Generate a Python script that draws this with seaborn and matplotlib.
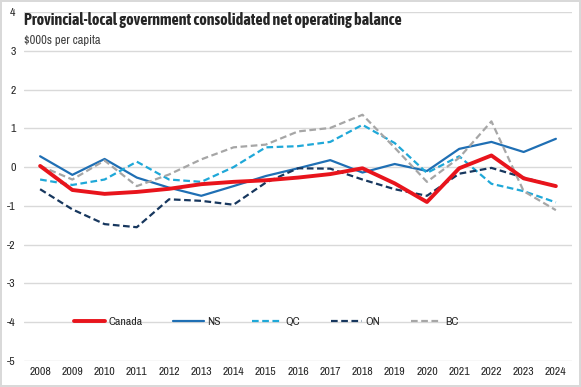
import numpy as np, pandas as pd
import matplotlib
matplotlib.use("Agg")
import matplotlib.pyplot as plt
import seaborn as sns

years = list(range(2008, 2025))
canada = [0.03, -0.59, -0.69, -0.64, -0.56, -0.44, -0.38, -0.34, -0.27, -0.18, -0.03, -0.42, -0.90, -0.03, 0.30, -0.29, -0.49]
ns     = [0.28, -0.20, 0.21, -0.27, -0.53, -0.74, -0.49, -0.23, -0.03, 0.18, -0.14, 0.08, -0.10, 0.47, 0.65, 0.39, 0.73]
qc     = [-0.32, -0.46, -0.32, 0.14, -0.32, -0.38, 0.00, 0.51, 0.54, 0.65, 1.09, 0.62, -0.15, 0.28, -0.43, -0.62, -0.91]
on     = [-0.57, -1.09, -1.47, -1.55, -0.83, -0.87, -0.97, -0.40, -0.03, -0.04, -0.32, -0.57, -0.74, -0.17, -0.02, -0.27, -0.49]
bc     = [0.03, -0.32, 0.17, -0.49, -0.19, 0.20, 0.51, 0.58, 0.92, 1.01, 1.35, 0.50, -0.38, 0.24, 1.18, -0.62, -1.11]

series = {"Canada": canada, "NS": ns, "QC": qc, "ON": on, "BC": bc}
colors = {"Canada": "#e8141c", "NS": "#1f6fb4", "QC": "#1fa8d8", "ON": "#17375e", "BC": "#a6a6a6"}
dashes = {"Canada": "", "NS": "", "QC": (3, 1.6), "ON": (3, 1.6), "BC": (3, 1.6)}
widths = {"Canada": 2.8, "NS": 1.6, "QC": 1.6, "ON": 1.6, "BC": 1.6}

df = pd.concat([pd.DataFrame({"year": years, "value": v, "region": k}) for k, v in series.items()])

sns.set_style("white")
plt.rcParams["font.family"] = ["Archivo Narrow", "DejaVu Sans"]
plt.rcParams["font.stretch"] = "condensed"
plt.rcParams["axes.unicode_minus"] = False

fig = plt.figure(figsize=(5.81, 3.87), dpi=100)
fig.patch.set_edgecolor("#d9d9d9")
fig.patch.set_linewidth(1.5)
ax = fig.add_axes([24/581, 1 - 361/387, (572-24)/581, (361-12)/387])

sns.lineplot(data=df, x="year", y="value", hue="region", style="region",
             palette=colors, dashes=dashes, ax=ax, legend=False)
for line, name in zip(ax.get_lines(), series.keys()):
    line.set_linewidth(widths[name])
    line.set_zorder(3 if name == "Canada" else 2)

ax.set_xlim(2007.5, 2024.5)
ax.set_ylim(-5, 4)
ax.set_yticks(range(-5, 5))
ax.set_xticks(years)
ax.set_xticklabels([str(y) for y in years])
ax.grid(axis="y", color="#d9d9d9", linewidth=1)
ax.set_axisbelow(True)
for s in ax.spines.values():
    s.set_visible(False)
ax.tick_params(axis="both", length=0, labelsize=8.5, colors="#262626")
ax.tick_params(axis="y", pad=6)
ax.tick_params(axis="x", pad=4)
ax.set_xlabel("")
ax.set_ylabel("")

handles = [plt.Line2D([], [], color=colors[k], lw=widths[k],
                      linestyle="-" if not dashes[k] else (0, dashes[k])) for k in series]
ax.legend(handles, list(series.keys()), loc="center", bbox_to_anchor=(0.442, (-4 + 5) / 9),
          ncol=5, frameon=False, fontsize=8.5, handlelength=2.6, columnspacing=2.6,
          handletextpad=0.3, labelcolor="#262626")

fig.text(24/581, 1 - 20/387, "Provincial-local government consolidated net operating balance",
         fontsize=11.5, fontweight="bold", family=["Asap Condensed", "DejaVu Sans"],
         color="#262626", va="center", ha="left")
fig.text(24/581, 1 - 41/387, "$000s per capita", fontsize=9, color="#404040",
         va="center", ha="left")

fig.savefig("out.png", dpi=100, edgecolor=fig.get_edgecolor())
